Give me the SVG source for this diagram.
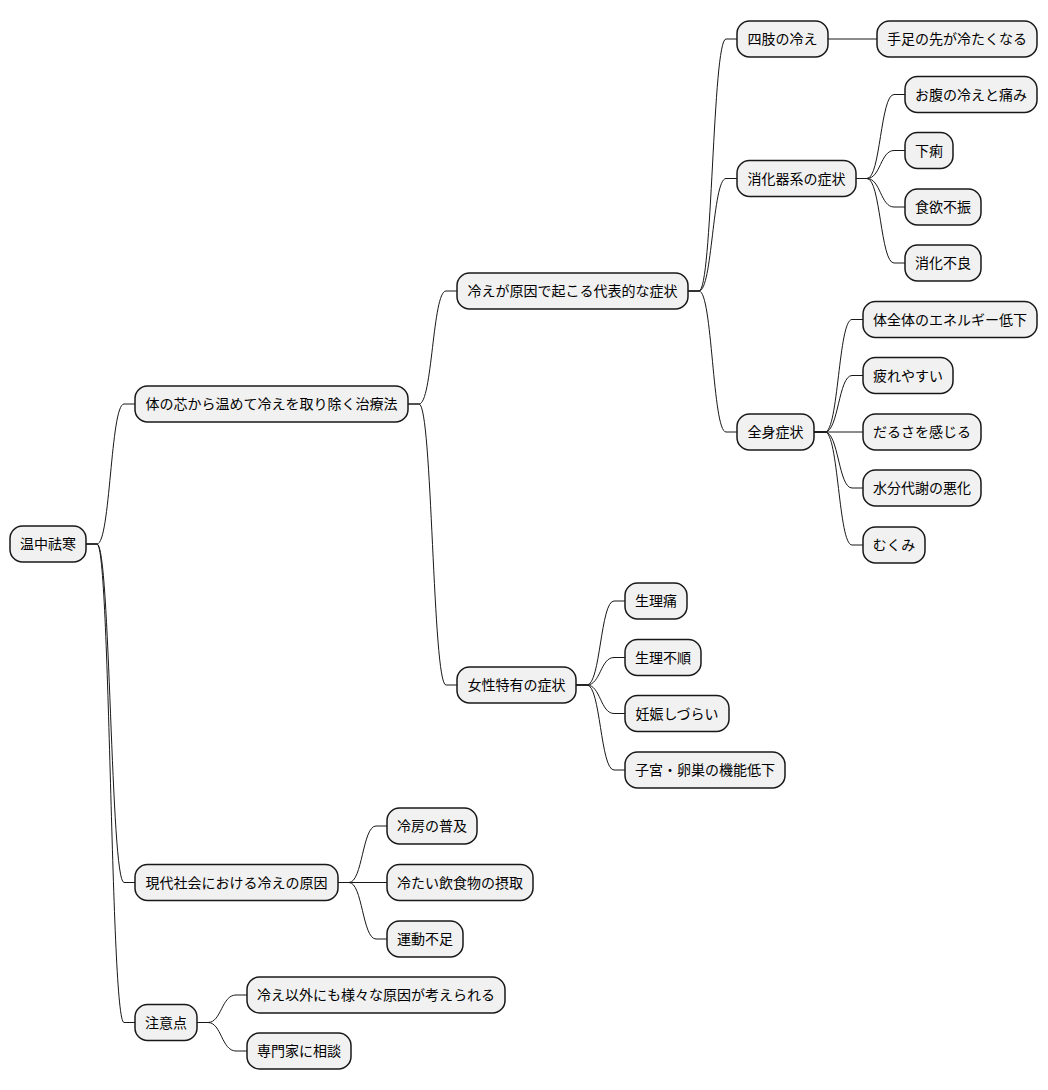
<svg xmlns="http://www.w3.org/2000/svg" width="1048" height="1090" viewBox="0 0 1048 1090">
<style>
.n rect{fill:#F1F1F1;stroke:#181818;stroke-width:1.5}
.n text{font-family:"Noto Sans CJK JP","Noto Sans",sans-serif;font-size:14px;fill:#000;text-anchor:middle}
#connectors path{fill:none;stroke:#181818;stroke-width:1}
</style>
<rect width="1048" height="1090" fill="#fff"/>
<g id="connectors">
<path d="M86,544 h11 C110.5,544 110.5,404 124,404 H135"/>
<path d="M86,544 h11 C110.5,544 110.5,882.5 124,882.5 H135"/>
<path d="M86,544 h11 C110.5,544 110.5,1022.5 124,1022.5 H135"/>
<path d="M408,404 h11 C432.5,404 432.5,291 446,291 H457"/>
<path d="M408,404 h11 C432.5,404 432.5,685 446,685 H457"/>
<path d="M688,291 h11 C712.5,291 712.5,39 726,39 H737"/>
<path d="M688,291 h11 C712.5,291 712.5,178.5 726,178.5 H737"/>
<path d="M688,291 h11 C712.5,291 712.5,432 726,432 H737"/>
<path d="M828,39 H877"/>
<path d="M856,178.5 h11 C880.5,178.5 880.5,94.5 894,94.5 H905"/>
<path d="M856,178.5 h11 C880.5,178.5 880.5,150.5 894,150.5 H905"/>
<path d="M856,178.5 h11 C880.5,178.5 880.5,207 894,207 H905"/>
<path d="M856,178.5 h11 C880.5,178.5 880.5,263 894,263 H905"/>
<path d="M814,432 h11 C838.5,432 838.5,319.5 852,319.5 H863"/>
<path d="M814,432 h11 C838.5,432 838.5,375.5 852,375.5 H863"/>
<path d="M814,432 H863"/>
<path d="M814,432 h11 C838.5,432 838.5,488 852,488 H863"/>
<path d="M814,432 h11 C838.5,432 838.5,545 852,545 H863"/>
<path d="M576,685 h11 C600.5,685 600.5,601 614,601 H625"/>
<path d="M576,685 h11 C600.5,685 600.5,657.5 614,657.5 H625"/>
<path d="M576,685 h11 C600.5,685 600.5,713.5 614,713.5 H625"/>
<path d="M576,685 h11 C600.5,685 600.5,770 614,770 H625"/>
<path d="M338,882.5 h11 C362.5,882.5 362.5,826 376,826 H387"/>
<path d="M338,882.5 H387"/>
<path d="M338,882.5 h11 C362.5,882.5 362.5,939 376,939 H387"/>
<path d="M197,1022.5 h11 C221.5,1022.5 221.5,995 236,995 H247"/>
<path d="M197,1022.5 h11 C221.5,1022.5 221.5,1051 236,1051 H247"/>
</g>
<g id="root" class="n"><rect x="10" y="526" width="76" height="36" rx="12.5"/><text x="48" y="549">温中祛寒</text></g>
<g id="n-a" class="n"><rect x="135" y="386" width="273" height="36" rx="12.5"/><text x="271.5" y="409">体の芯から温めて冷えを取り除く治療法</text></g>
<g id="n-a1" class="n"><rect x="457" y="273" width="231" height="36" rx="12.5"/><text x="572.5" y="296">冷えが原因で起こる代表的な症状</text></g>
<g id="n-a1a" class="n"><rect x="737" y="21" width="91" height="36" rx="12.5"/><text x="782.5" y="44">四肢の冷え</text></g>
<g id="n-a1a1" class="n"><rect x="877" y="21" width="160" height="36" rx="12.5"/><text x="957" y="44">手足の先が冷たくなる</text></g>
<g id="n-a1b" class="n"><rect x="737" y="160.5" width="119" height="36" rx="12.5"/><text x="796.5" y="183.5">消化器系の症状</text></g>
<g id="n-a1b1" class="n"><rect x="905" y="76.5" width="132" height="36" rx="12.5"/><text x="971" y="99.5">お腹の冷えと痛み</text></g>
<g id="n-a1b2" class="n"><rect x="905" y="132.5" width="48" height="36" rx="12.5"/><text x="929" y="155.5">下痢</text></g>
<g id="n-a1b3" class="n"><rect x="905" y="189" width="76" height="36" rx="12.5"/><text x="943" y="212">食欲不振</text></g>
<g id="n-a1b4" class="n"><rect x="905" y="245" width="76" height="36" rx="12.5"/><text x="943" y="268">消化不良</text></g>
<g id="n-a1c" class="n"><rect x="737" y="414" width="77" height="36" rx="12.5"/><text x="775.5" y="437">全身症状</text></g>
<g id="n-a1c1" class="n"><rect x="863" y="301.5" width="174" height="36" rx="12.5"/><text x="950" y="324.5">体全体のエネルギー低下</text></g>
<g id="n-a1c2" class="n"><rect x="863" y="357.5" width="90" height="36" rx="12.5"/><text x="908" y="380.5">疲れやすい</text></g>
<g id="n-a1c3" class="n"><rect x="863" y="414" width="118" height="36" rx="12.5"/><text x="922" y="437">だるさを感じる</text></g>
<g id="n-a1c4" class="n"><rect x="863" y="470" width="118" height="36" rx="12.5"/><text x="922" y="493">水分代謝の悪化</text></g>
<g id="n-a1c5" class="n"><rect x="863" y="527" width="62" height="36" rx="12.5"/><text x="894" y="550">むくみ</text></g>
<g id="n-a2" class="n"><rect x="457" y="667" width="119" height="36" rx="12.5"/><text x="516.5" y="690">女性特有の症状</text></g>
<g id="n-a21" class="n"><rect x="625" y="583" width="62" height="36" rx="12.5"/><text x="656" y="606">生理痛</text></g>
<g id="n-a22" class="n"><rect x="625" y="639.5" width="76" height="36" rx="12.5"/><text x="663" y="662.5">生理不順</text></g>
<g id="n-a23" class="n"><rect x="625" y="695.5" width="104" height="36" rx="12.5"/><text x="677" y="718.5">妊娠しづらい</text></g>
<g id="n-a24" class="n"><rect x="625" y="752" width="160" height="36" rx="12.5"/><text x="705" y="775">子宮・卵巣の機能低下</text></g>
<g id="n-b" class="n"><rect x="135" y="864.5" width="203" height="36" rx="12.5"/><text x="236.5" y="887.5">現代社会における冷えの原因</text></g>
<g id="n-b1" class="n"><rect x="387" y="808" width="90" height="36" rx="12.5"/><text x="432" y="831">冷房の普及</text></g>
<g id="n-b2" class="n"><rect x="387" y="864.5" width="146" height="36" rx="12.5"/><text x="460" y="887.5">冷たい飲食物の摂取</text></g>
<g id="n-b3" class="n"><rect x="387" y="921" width="76" height="36" rx="12.5"/><text x="425" y="944">運動不足</text></g>
<g id="n-c" class="n"><rect x="135" y="1004.5" width="62" height="36" rx="12.5"/><text x="166" y="1027.5">注意点</text></g>
<g id="n-c1" class="n"><rect x="247" y="977" width="258" height="36" rx="12.5"/><text x="376" y="1000">冷え以外にも様々な原因が考えられる</text></g>
<g id="n-c2" class="n"><rect x="247" y="1033" width="104" height="36" rx="12.5"/><text x="299" y="1056">専門家に相談</text></g>
</svg>
